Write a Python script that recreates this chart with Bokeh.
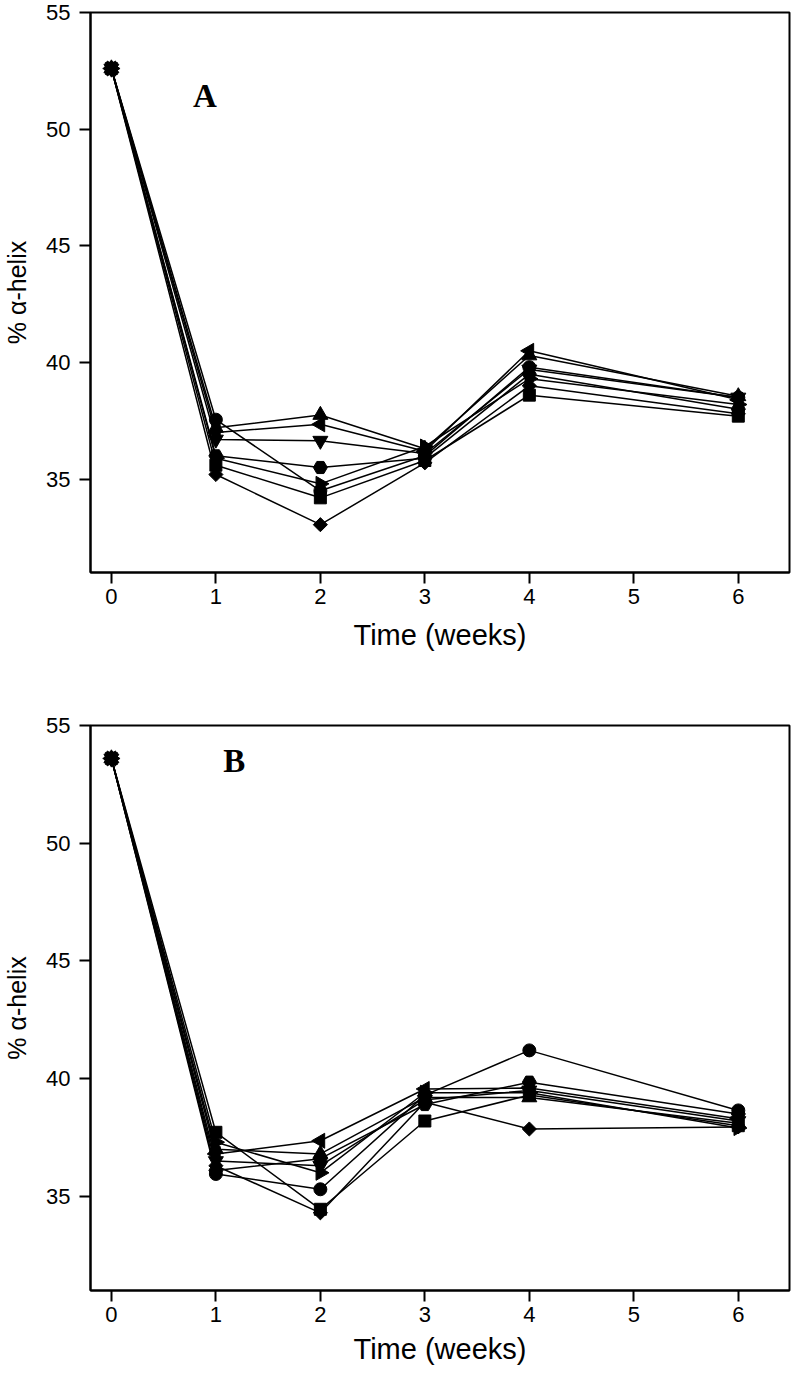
import numpy as np
from bokeh.plotting import figure
from bokeh.layouts import column
from bokeh.models import Range1d, FixedTicker, Label
from bokeh.embed import file_html
from bokeh.resources import INLINE

weeks = [0, 1, 2, 3, 4, 6]
x_ticks = [0, 1, 2, 3, 4, 5, 6]
y_ticks = [35, 40, 45, 50, 55]

# Panel A (% alpha-helix per series)
a_circle = [52.6, 37.55, 34.5, 36.0, 39.8, 38.5]
a_tri_up = [52.6, 37.2, 37.75, 36.3, 40.3, 38.55]
a_tri_left = [52.6, 37.0, 37.35, 36.2, 40.5, 38.4]
a_tri_down = [52.6, 36.7, 36.65, 36.1, 39.7, 38.5]
a_hex = [52.6, 36.0, 35.5, 35.9, 39.5, 38.0]
a_tri_right = [52.6, 35.9, 34.8, 36.4, 39.3, 38.2]
a_square = [52.6, 35.6, 34.2, 35.8, 38.6, 37.7]
a_diamond = [52.6, 35.2, 33.05, 35.7, 39.0, 37.8]

# Panel B
b_circle = [53.6, 35.95, 35.3, 39.3, 41.2, 38.65]
b_tri_up = [53.6, 37.0, 36.8, 39.2, 39.2, 38.1]
b_tri_left = [53.6, 36.8, 37.36, 39.56, 39.6, 38.3]
b_tri_down = [53.6, 36.5, 36.3, 39.1, 39.5, 38.2]
b_hex = [53.6, 36.1, 36.6, 38.9, 39.85, 38.5]
b_tri_right = [53.6, 37.3, 36.0, 39.4, 39.4, 37.9]
b_square = [53.6, 37.72, 34.45, 38.2, 39.3, 38.0]
b_diamond = [53.6, 36.3, 34.3, 39.0, 37.86, 37.95]

MARKERS = {
    "circle": ("circle", 0.0, 13),
    "tri_up": ("triangle", 0.0, 15),
    "tri_left": ("triangle", np.pi / 2, 15),
    "tri_down": ("inverted_triangle", 0.0, 15),
    "hex": ("hex", 0.0, 14),
    "tri_right": ("triangle", -np.pi / 2, 15),
    "square": ("square", 0.0, 12),
    "diamond": ("square", np.pi / 4, 10),
}

panel_a = [("circle", a_circle), ("tri_up", a_tri_up), ("tri_left", a_tri_left),
           ("tri_down", a_tri_down), ("hex", a_hex), ("tri_right", a_tri_right),
           ("square", a_square), ("diamond", a_diamond)]
panel_b = [("circle", b_circle), ("tri_up", b_tri_up), ("tri_left", b_tri_left),
           ("tri_down", b_tri_down), ("hex", b_hex), ("tri_right", b_tri_right),
           ("square", b_square), ("diamond", b_diamond)]

FONT = "Liberation Sans"


def make_panel(series, letter, letter_x, letter_y, height, top, bottom, xlab_standoff):
    p = figure(width=792, height=height, output_backend="svg", toolbar_location=None,
               x_range=Range1d(-0.2, 6.49), y_range=Range1d(31, 55),
               min_border_left=87, min_border_right=3,
               min_border_top=top, min_border_bottom=bottom)
    p.xgrid.visible = False
    p.ygrid.visible = False
    p.outline_line_color = "black"
    p.outline_line_width = 2
    p.outline_line_alpha = 1.0
    p.background_fill_color = "white"
    p.border_fill_color = "white"

    for ax in (p.xaxis[0], p.yaxis[0]):
        ax.axis_line_color = "black"
        ax.axis_line_width = 2
        ax.major_tick_line_color = "black"
        ax.major_tick_line_width = 2
        ax.major_tick_in = 0
        ax.major_tick_out = 11
        ax.minor_tick_in = 0
        ax.minor_tick_out = 0
        ax.major_label_text_font = FONT
        ax.major_label_text_font_size = "22px"
        ax.major_label_text_color = "black"
        ax.axis_label_text_font = FONT
        ax.axis_label_text_font_style = "normal"
        ax.axis_label_text_color = "black"

    p.xaxis.axis_label_text_font_size = "29px"
    p.yaxis.axis_label_text_font_size = "25px"
    p.xaxis.ticker = FixedTicker(ticks=x_ticks)
    p.yaxis.ticker = FixedTicker(ticks=y_ticks)
    p.xaxis.major_label_standoff = 5
    p.yaxis.major_label_standoff = 9
    p.xaxis.axis_label = "Time (weeks)"
    p.yaxis.axis_label = "% α-helix"
    p.xaxis.axis_label_standoff = xlab_standoff
    p.yaxis.axis_label_standoff = 12

    for name, vals in series:
        m, ang, sz = MARKERS[name]
        p.line(weeks, vals, line_color="black", line_width=1.5)
        p.scatter(weeks, vals, marker=m, angle=ang, size=sz,
                  fill_color="black", line_color="black", line_width=1)

    p.add_layout(Label(x=letter_x, y=letter_y, text=letter, text_font="Liberation Serif",
                       text_font_style="bold", text_font_size="33px", text_color="black",
                       text_align="center", text_baseline="middle"))
    return p


pA = make_panel(panel_a, "A", 0.895, 51.44, 12 + 560 + 90, 12, 90, 12)
pB = make_panel(panel_b, "B", 1.176, 53.49, 63 + 565 + 84, 63, 84, 8)

layout = column(pA, pB, spacing=0)
open("out.html", "w").write(file_html(layout, INLINE))
